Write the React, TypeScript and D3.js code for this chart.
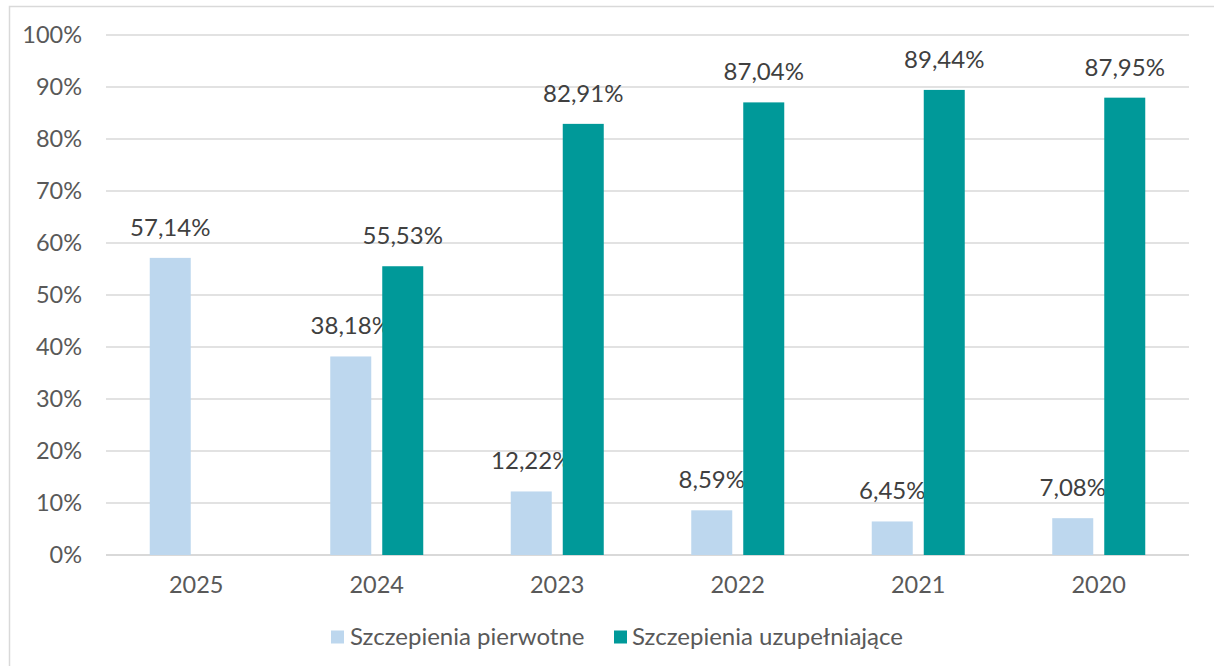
import React from 'react'
import * as d3 from 'd3'

const years = ['2025', '2024', '2023', '2022', '2021', '2020']
const seriesNames = ['Szczepienia pierwotne', 'Szczepienia uzupełniające']
const primary: (number | null)[] = [57.14, 38.18, 12.22, 8.59, 6.45, 7.08]
const booster: (number | null)[] = [null, 55.53, 82.91, 87.04, 89.44, 87.95]
const yTicks = [0, 10, 20, 30, 40, 50, 60, 70, 80, 90, 100]
const colors = ['#bdd7ee', '#009999']

const W = 1214
const H = 666
const margin = { top: 35, right: 25, bottom: 111, left: 106 }

const fmt = (v: number) => v.toFixed(2).replace('.', ',') + '%'

function App() {
    const innerW = W - margin.left - margin.right
    const innerH = H - margin.top - margin.bottom

    const x = d3.scaleBand<string>().domain(years).range([0, innerW]).padding(0)
    const y = d3.scaleLinear().domain([0, 100]).range([innerH, 0])
    const groupW = 93
    const sub = d3.scaleBand<string>().domain(['a', 'b']).range([-groupW / 2, groupW / 2]).paddingInner(0.2115)

    const series = [primary, booster]
    const font = 'Lato, "Open Sans", sans-serif'

    return (
        <svg width={W} height={H} style={{ position: 'absolute', left: 0, top: 0, background: '#fff' }} fontFamily={font}>
            <rect x={9.5} y={6.5} width={1230} height={700} fill="#fff" stroke="#d9d9d9" strokeWidth={1.5} />
            <g transform={`translate(${margin.left},${margin.top})`}>
                {yTicks.map(t => (
                    <g key={t}>
                        <line x1={0} x2={innerW} y1={y(t)} y2={y(t)} stroke="#d9d9d9" strokeWidth={t === 0 ? 2 : 1.5} />
                        <text x={-24} y={y(t)} dy="0.35em" textAnchor="end" fontSize={23.5} fill="#595959">{t}%</text>
                    </g>
                ))}
                {years.map((yr, i) => {
                    const cx = (x(yr) as number) + x.bandwidth() / 2
                    return (
                        <g key={yr}>
                            {series.map((s, si) => {
                                const v = s[i]
                                if (v === null) return null
                                const bx = cx + (sub(si === 0 ? 'a' : 'b') as number)
                                return (
                                    <g key={si}>
                                        <rect x={bx} y={y(v)} width={sub.bandwidth()} height={innerH - y(v)} fill={colors[si]} />
                                        <text x={bx + sub.bandwidth() / 2} y={y(v) - 22} textAnchor="middle" fontSize={24} fill="#404040">{fmt(v)}</text>
                                    </g>
                                )
                            })}
                            <text x={cx} y={innerH + 30} dy="0.35em" textAnchor="middle" fontSize={23.5} fill="#595959">{yr}</text>
                        </g>
                    )
                })}
            </g>
            <g transform="translate(331,637)">
                <rect x={0} y={-6.5} width={13} height={13} fill={colors[0]} />
                <text x={19} y={0} dy="0.35em" fontSize={24} fill="#595959">{seriesNames[0]}</text>
                <rect x={283} y={-6.5} width={13} height={13} fill={colors[1]} />
                <text x={301} y={0} dy="0.35em" fontSize={24} fill="#595959">{seriesNames[1]}</text>
            </g>
        </svg>
    )
}

export default App
